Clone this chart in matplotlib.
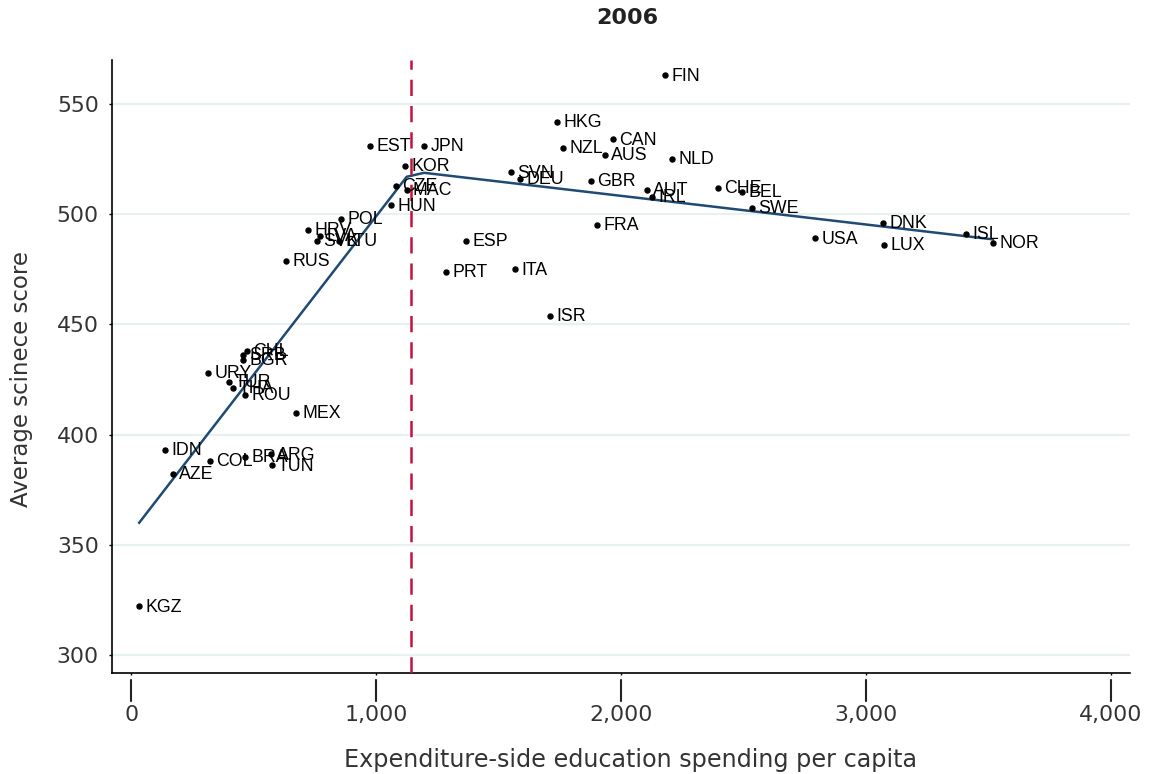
import numpy as np
import matplotlib
matplotlib.use("Agg")
import matplotlib.pyplot as plt
from matplotlib.lines import Line2D

# country codes, spending per capita and average science score (2006)
codes = ["FIN", "HKG", "CAN", "NZL", "AUS", "NLD", "EST", "JPN", "KOR", "SVN",
         "DEU", "GBR", "AUT", "IRL", "CHE", "BEL", "SWE", "CZE", "MAC", "HUN",
         "POL", "HRV", "LVA", "SVK", "LTU", "RUS", "ESP", "PRT", "ITA", "ISR",
         "FRA", "USA", "DNK", "LUX", "ISL", "NOR", "CHL", "SRB", "BGR", "URY",
         "TUR", "THA", "ROU", "MEX", "IDN", "COL", "BRA", "ARG", "TUN", "AZE",
         "KGZ"]
spending = [2180, 1739, 1967, 1763, 1935, 2208, 976, 1196, 1118, 1551,
            1588, 1878, 2106, 2127, 2396, 2494, 2535, 1082, 1125, 1061,
            857, 722, 771, 759, 849, 633, 1367, 1286, 1567, 1710,
            1902, 2792, 3069, 3073, 3408, 3518, 472, 456, 458, 314,
            399, 415, 464, 673, 137, 322, 465, 570, 574, 170,
            33]
score = [563, 542, 534, 530, 527, 525, 531, 531, 522, 519,
         516, 515, 511, 508, 512, 510, 503, 513, 511, 504,
         498, 493, 490, 488, 488, 479, 488, 474, 475, 454,
         495, 489, 496, 486, 491, 487, 438, 436, 434, 428,
         424, 421, 418, 410, 393, 388, 390, 391, 386, 382,
         322]

# piecewise fit (fitted values at the vertices) and the knot
fit_x = [33, 1125, 1196, 3518]
fit_y = [360, 517, 518.8, 488.6]
knot = 1143

xticks = [0, 1000, 2000, 3000, 4000]
yticks = [300, 350, 400, 450, 500, 550]

fig = plt.figure(figsize=(11.49, 7.74), dpi=100)
ax = fig.add_axes([0.0975, 0.1305, 0.886, 0.792])

for y in yticks:
    ax.axhline(y, color="#e8f0f2", lw=1.6, zorder=0)

ax.plot(fit_x, fit_y, color="#1f4a74", lw=1.8, zorder=2)
ax.axvline(knot, color="#c4123e", lw=1.8, ls=(0, (6.5, 4)), zorder=3)
ax.plot(spending, score, "o", color="black", ms=3.6, zorder=4)

for c, x, y in zip(codes, spending, score):
    ax.annotate(c, (x, y), xytext=(4.5, -0.5), textcoords="offset points",
                va="center", ha="left", fontsize=12.8,
                family="Liberation Sans", color="black", zorder=5)

ax.set_xlim(-78, 4078)
ax.set_ylim(291.8, 570)
ax.set_xticks(xticks)
ax.set_yticks(yticks)
ax.set_yticklabels([str(t) for t in yticks])

for s in ["top", "right"]:
    ax.spines[s].set_visible(False)
for s in ["left", "bottom"]:
    ax.spines[s].set_linewidth(1.2)
    ax.spines[s].set_color("black")

ax.tick_params(axis="y", length=2.5, width=1, pad=7, labelsize=15.8,
               labelcolor="#333333")
ax.tick_params(axis="x", length=1.5, width=1, labelbottom=False)
for lab in ax.get_yticklabels():
    lab.set_family("DejaVu Sans")

# x ticks and labels sit a little below the axis line
sec = ax.secondary_xaxis(-0.0115)
sec.set_xticks(xticks)
sec.set_xticklabels([f"{t:,}" for t in xticks])
sec.spines["bottom"].set_visible(False)
sec.tick_params(axis="x", length=15, width=1.5, color="#222222", pad=3,
                labelsize=15.8, labelcolor="#333333")
for lab in sec.get_xticklabels():
    lab.set_family("DejaVu Sans")

# the same tick marks drawn as figure lines
to_fig = fig.transFigure.inverted()
for t in xticks:
    xf = to_fig.transform(ax.transData.transform((t, 300)))[0]
    fig.add_artist(Line2D([xf, xf], [1 - 680 / 774, 1 - 701 / 774],
                          transform=fig.transFigure, color="#222222", lw=1.3))

ax.set_xlabel("Expenditure-side education spending per capita",
              fontsize=17.2, family="DejaVu Sans", color="#333333")
ax.xaxis.set_label_coords(0.509, -0.122)
ax.set_ylabel("Average scinece score", fontsize=16.5, family="DejaVu Sans",
              color="#333333")
ax.yaxis.set_label_coords(-0.0776, 0.4796)
fig.text(0.5457, 0.977, "2006", ha="center", va="center", fontsize=16,
         fontweight="bold", family="DejaVu Sans", color="#222222")

fig.savefig("out.png", dpi=100)
